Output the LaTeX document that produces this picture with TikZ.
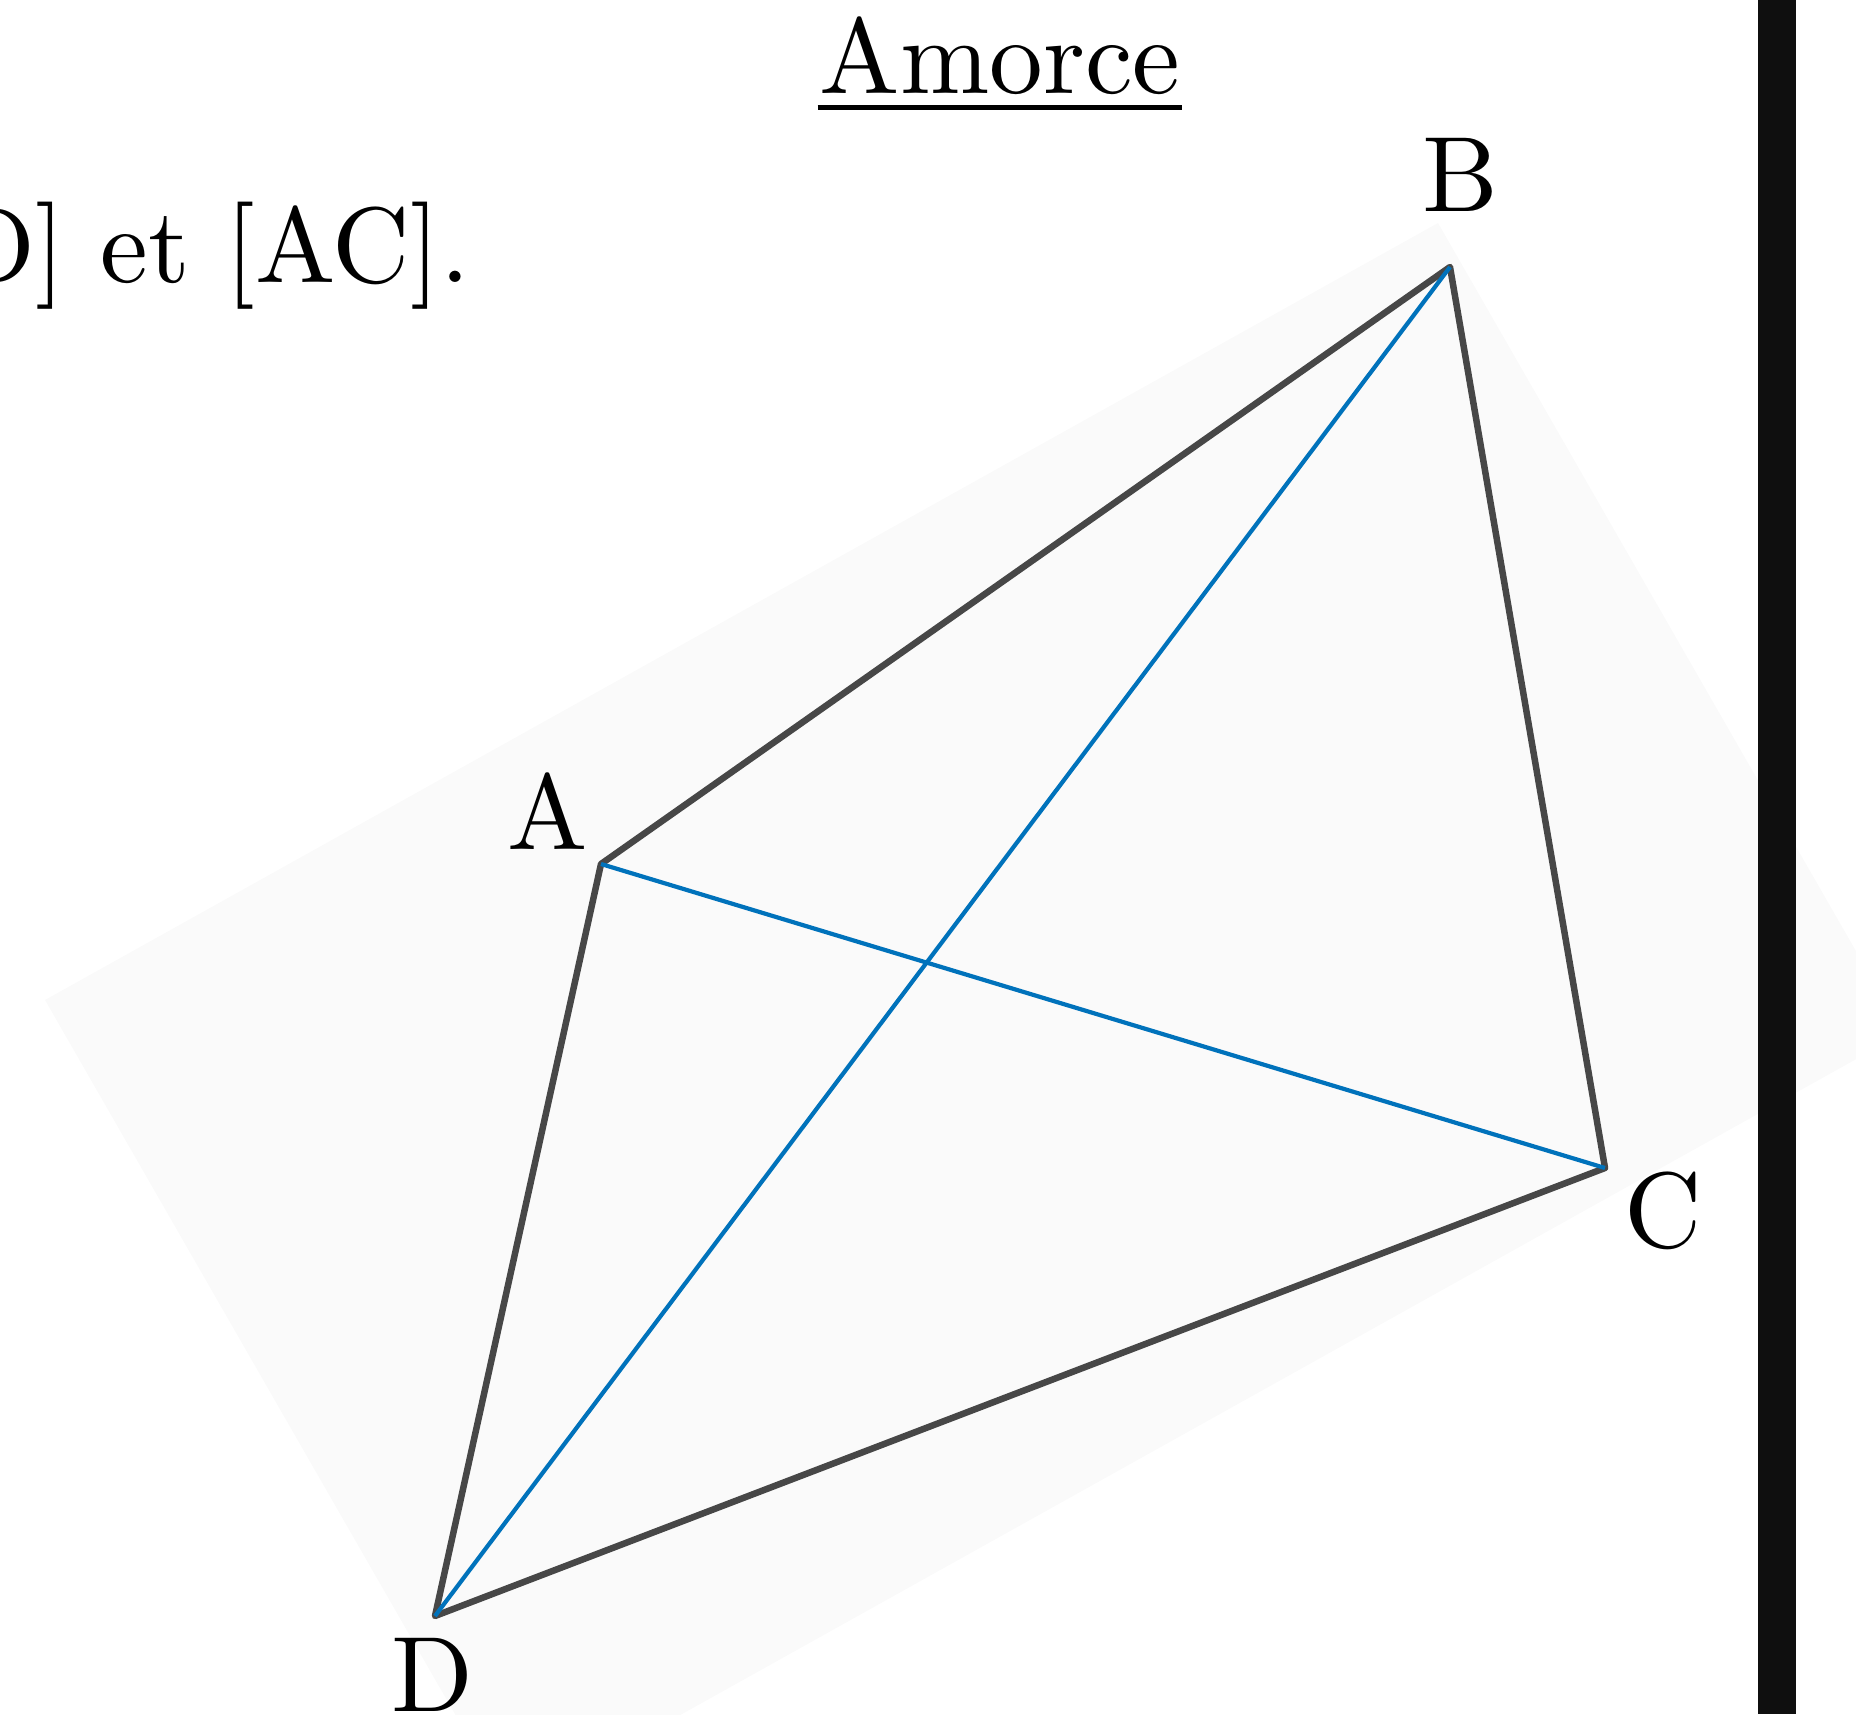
\documentclass[tikz,border=0pt]{standalone}
\usepackage{xcolor}
\usepackage{tikz}
\usetikzlibrary{calc}
\definecolor{diagblue}{RGB}{0,114,187}
\definecolor{sheet}{RGB}{250,250,250}

\begin{document}
\begin{tikzpicture}[font=\fontsize{10}{12}\selectfont,
  side/.style={draw=black!72,line width=0.065cm,line join=round},
  diag/.style={draw=diagblue,line width=0.042cm},
  lbl/.style={inner sep=0pt,anchor=base,scale=3.05,transform shape}]
\useasboundingbox (0,0) rectangle (18.56,17.14);
\fill[sheet] (0.45,7.14) -- (14.38,14.91) -- (19.03,6.81) -- (5.10,-0.96) -- cycle;
\fill[black!94] (17.58,0) rectangle (17.96,17.14);
\node[lbl] (title) at (10.00,16.20) {Amorce};
\draw[line width=0.05cm] ($(title.base west)+(0,-0.135)$) -- ($(title.base east)+(0,-0.135)$);
\node[lbl,anchor=base east] (consigne) at (4.72,14.31) {D] et [AC].};
\coordinate (a) at (6.01,8.50);
\coordinate (b) at (14.50,14.47);
\coordinate (c) at (16.05,5.46);
\coordinate (d) at (4.35,0.98);
\draw[side] (a) -- (b) -- (c) -- (d) -- cycle;
\draw[diag] (a) -- (c);
\draw[diag] (b) -- (d);
\node[lbl] (la) at (5.475,8.64) {A};
\node[lbl] (lb) at (14.60,15.02) {B};
\node[lbl] (lc) at (16.63,4.67) {C};
\node[lbl] (ld) at (4.32,0.03) {D};
\end{tikzpicture}
\end{document}
